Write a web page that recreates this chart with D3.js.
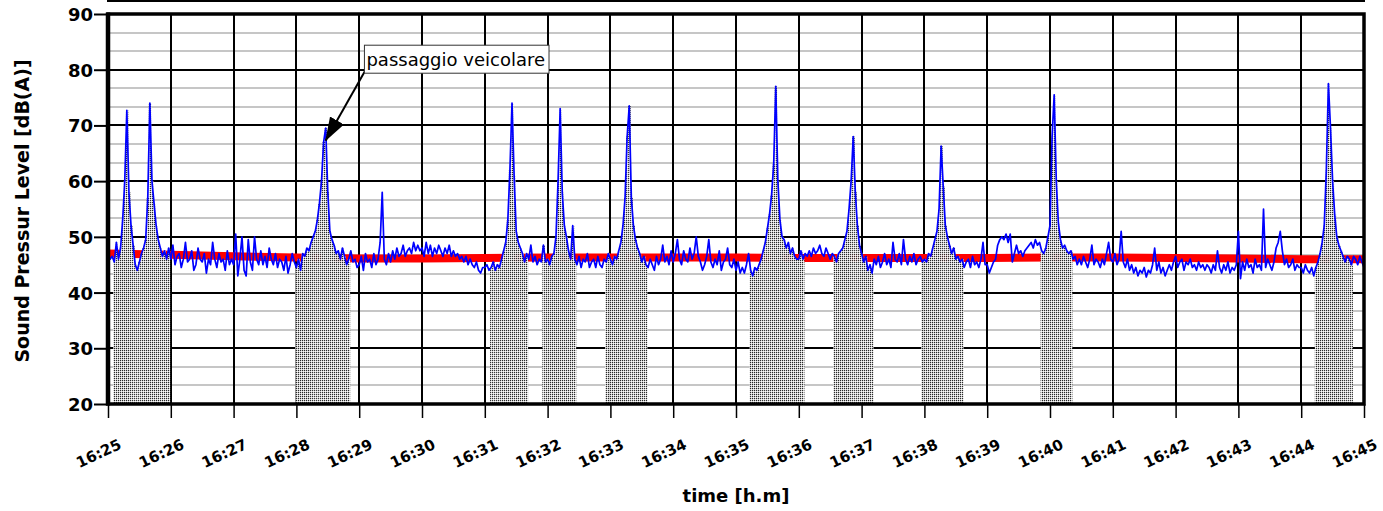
<!DOCTYPE html>
<html>
<head>
<meta charset="utf-8">
<script src="https://cdn.jsdelivr.net/npm/d3@7"></script>
<style>
	html, body { margin: 0; padding: 0; background: #fff; }
	#container-chart { width: 1383px; height: 511px; }
</style>
</head>
<body>
<div id="container-chart"></div>
<script>
/* minute labels on the time axis, 16:25 -> 16:45 */
var minuteLabels = ["16:25", "16:26", "16:27", "16:28", "16:29", "16:30", "16:31", "16:32", "16:33", "16:34",
	"16:35", "16:36", "16:37", "16:38", "16:39", "16:40", "16:41", "16:42", "16:43", "16:44", "16:45"];
var levelTicks = [20, 30, 40, 50, 60, 70, 80, 90];

/* sound level dB(A), one sample every sampleStep seconds, one row per minute */
var sampleStep = 2;
var levelSeries = [
	47, 46, 46.5, 45.5, 49, 46, 48, 53, 60, 72.7, 58, 52, 48.5, 45, 44, 45.5, 47, 48, 49.5, 57, 74, 60, 56, 52, 49.5, 48, 46.5, 47.5, 46, 48,
	46, 48.5, 45, 46.5, 47, 44.5, 46, 49, 45.5, 46, 47.5, 44, 45, 48, 46, 45.5, 47, 43.5, 46, 45, 49, 46, 44.5, 47, 45.5, 46, 44, 47.5, 45, 46,
	45, 50.5, 43, 46, 50, 44, 43, 49.5, 45.5, 44, 50, 46, 45, 47.5, 45, 46.5, 44.5, 48, 46, 45, 47, 44.5, 46, 45.5, 44, 46.5, 43.5, 45, 47, 45.5,
	44.5, 46, 44, 47, 46.5, 48, 47.5, 49, 50, 51, 53, 56, 60, 67, 69.5, 58, 51, 49.5, 48.5, 47, 47.5, 46, 48, 46.5, 45, 46, 47.5, 45.5, 46, 44.5,
	45, 46.5, 44, 47, 45.5, 46, 44.5, 47, 45, 46, 49, 58, 46, 45, 47, 45.5, 47.5, 46, 48, 46.5, 47, 48.5, 46.5, 47.5, 48, 47, 49, 47.5, 48.5, 47.5,
	48, 46.5, 49, 47, 48.5, 46.5, 48, 47, 48.5, 47.5, 46.5, 48, 47, 48.5, 46.5, 47.5, 46.5, 47, 46, 46.5, 45.5, 46.5, 45, 46, 45, 44.5, 45.5, 44, 43.5, 44.5,
	44.5, 45, 44, 44.5, 45.5, 44, 45, 44.5, 46, 47.5, 49, 53, 62, 74, 61, 51, 49, 48, 47, 45.5, 47, 46, 48.5, 45.5, 46.5, 45, 46, 45.5, 48.5, 45.5,
	46, 45, 46.5, 47, 50, 60, 73, 58, 52, 50, 47.5, 46, 52, 46, 45, 46.5, 44.5, 46, 45.5, 47, 44.5, 45.5, 46, 44.5, 46.5, 45, 44.5, 46, 45.5, 47,
	46, 45, 46.5, 46, 47.5, 49, 52, 57, 68, 73.5, 57, 52, 49.5, 48, 47, 45.5, 46.5, 45, 44.5, 46, 45, 44, 46.5, 45, 46, 48.5, 45.5, 46.5, 45, 47.5,
	45.5, 47, 49.5, 46, 45, 47.5, 46, 45.5, 48, 46, 47, 50, 46.5, 45.5, 44, 45, 46.5, 49.5, 45.5, 44.5, 46, 45, 47.5, 44, 45.5, 46, 48, 45, 44.5, 46,
	44, 45.5, 43.5, 44.5, 43.5, 45, 47, 44, 43, 44.5, 44, 45, 46, 47.5, 49, 51.5, 54, 57.5, 63, 77, 60, 53, 50, 49.5, 48, 49, 47, 48, 46.5, 46,
	46, 47.5, 46, 47, 46.5, 47.5, 46.5, 48, 47, 47.5, 48.5, 47, 46.5, 48, 47, 46, 47, 46.5, 45.5, 47, 47.5, 48, 49.5, 51, 55, 60, 68, 58, 52, 48.5,
	47, 45.5, 46.5, 44, 45, 43.5, 46, 45, 46.5, 44.5, 45.5, 47, 45, 46, 44.5, 49, 46, 45.5, 47, 45, 49.5, 46, 45, 46.5, 45.5, 47, 45, 46, 46.5, 45.5,
	46, 45.5, 47, 46.5, 48, 49.5, 51, 55, 66.3, 59, 52, 50, 48.5, 47, 48, 46, 46.5, 45.5, 46, 44.5, 45.5, 46, 44.5, 46.5, 45, 45.5, 44.5, 46, 49, 45,
	45, 43.5, 44.5, 45.5, 46, 48.5, 49.5, 50, 49.5, 50.5, 49, 50.5, 45.5, 47, 48.5, 47, 47.5, 46.5, 47.5, 48, 48.5, 49, 48, 49.5, 48.5, 49, 47.5, 47, 48, 50,
	52, 68, 75.5, 60, 52.5, 49.5, 48, 48.5, 47.5, 47, 47.5, 46, 46.5, 45, 46, 45, 46.5, 45.5, 44.5, 46, 48.5, 45, 46, 45.5, 44.5, 46, 45, 47, 49, 46,
	45.5, 47, 45, 46, 51, 45.5, 44.5, 46, 44, 45, 43.5, 44.5, 43, 44, 43.5, 44.5, 42.8, 44, 43.5, 45, 48, 44, 45.5, 43.5, 44.5, 43, 44, 45, 44, 45.5,
	46.5, 44.5, 45.5, 46, 44, 45.5, 45, 46, 44.5, 45, 44, 45.5, 44.5, 45, 44, 45, 44.5, 43.5, 45, 44, 47.5, 44.5, 43.5, 45, 44, 45.5, 43.5, 44.5, 44, 45,
	51, 42.5, 45.5, 44, 46, 44.5, 45, 43.5, 46, 44.5, 45, 44, 55, 44.5, 46, 45, 44, 45.5, 48, 49, 51, 47.5, 45, 46, 44.5, 45, 46, 44, 45, 44.5,
	44.5, 43.5, 45, 44, 43.5, 44.5, 43, 44.5, 45.5, 47, 49, 52, 62, 77.5, 69.5, 60, 54, 50, 48.5, 47.5, 46.5, 45.5, 46.5, 46, 45, 46.5, 46, 45, 46.5, 45.5,
	44.5
];

/* running Leq, one value per minute */
var leqSeries = [47.0, 46.8, 46.5, 46.3, 46.1, 46.1, 46.2, 46.3, 46.3, 46.3, 46.3,
	46.2, 46.2, 46.2, 46.2, 46.3, 46.3, 46.2, 46.1, 46.0, 46.0];

/* vehicle passages, [start, end] in seconds from 16:25 */
var eventWindows = [[6, 58], [180, 230], [366, 400], [416, 446], [476, 514],
	[614, 664], [694, 730], [778, 816], [892, 920], [1154, 1188]];

var annotationText = "passaggio veicolare";
var annotationTarget = [208, 67.3];   /* seconds, dB */
var annotationAnchor = [245, 84.4];

window.NoiseChart = (function () {

	function NoiseChart(levels, leq, events) {
		this.levels = levels;
		this.leq = leq;
		this.events = events;

		this.width = 1383;
		this.height = 511;
		this.margin = { top: 14, right: 19, bottom: 107, left: 108 };
	}

	NoiseChart.prototype.init = function () {
		this.drawFrame();
		this.drawSeries();
		this.drawAxes();
		this.drawAnnotation();
	};

	NoiseChart.prototype.drawFrame = function () {
		var m = this.margin;
		this.w = this.width - m.left - m.right;
		this.h = this.height - m.top - m.bottom;

		this.svg = d3.select("#container-chart")
			.append("svg")
			.attr("width", this.width)
			.attr("height", this.height)
			.style("background", "#fff");

		var defs = this.svg.append("defs");
		var pat = defs.append("pattern")
			.attr("id", "stipple")
			.attr("patternUnits", "userSpaceOnUse")
			.attr("width", 2)
			.attr("height", 2);
		pat.append("rect").attr("width", 2).attr("height", 2).attr("fill", "#cdcdcd");
		pat.append("rect").attr("width", 1).attr("height", 1).attr("fill", "#2a2a2a");
		pat.append("rect").attr("x", 1).attr("y", 1).attr("width", 1).attr("height", 1).attr("fill", "#fafafa");

		defs.append("marker")
			.attr("id", "arrowhead")
			.attr("markerUnits", "userSpaceOnUse")
			.attr("markerWidth", 24)
			.attr("markerHeight", 16)
			.attr("refX", 23)
			.attr("refY", 8)
			.attr("orient", "auto")
			.append("path")
			.attr("d", "M0,0 L24,8 L0,16 Z")
			.attr("fill", "#000");

		this.g = this.svg.append("g")
			.attr("transform", "translate(" + m.left + "," + m.top + ")");

		var totalSeconds = (this.levels.length - 1) * sampleStep;
		this.x = d3.scaleLinear().domain([0, totalSeconds]).range([0, this.w]);
		this.y = d3.scaleLinear().domain([levelTicks[0], levelTicks[levelTicks.length - 1]]).range([this.h, 0]);

		this.minuteTicks = minuteLabels.map(function (d, i) { return i * 60; });

		/* grey minor lines, three parts per 10 dB */
		var minor = [];
		for (var i = 0; i < levelTicks.length - 1; i++) {
			var step = (levelTicks[i + 1] - levelTicks[i]) / 3;
			minor.push(levelTicks[i] + step, levelTicks[i] + 2 * step);
		}

		var x = this.x, y = this.y, w = this.w;

		this.g.selectAll(".minor")
			.data(minor)
			.enter()
			.append("line")
			.attr("class", "minor")
			.attr("x1", 0).attr("x2", w)
			.attr("y1", function (d) { return Math.round(y(d)); })
			.attr("y2", function (d) { return Math.round(y(d)); })
			.attr("stroke", "#c6c6c6")
			.attr("stroke-width", 2);

		this.g.selectAll(".hmajor")
			.data(levelTicks)
			.enter()
			.append("line")
			.attr("class", "hmajor")
			.attr("x1", 0).attr("x2", w)
			.attr("y1", function (d) { return Math.round(y(d)); })
			.attr("y2", function (d) { return Math.round(y(d)); })
			.attr("stroke", "#000")
			.attr("stroke-width", 2);

		this.g.selectAll(".vmajor")
			.data(this.minuteTicks)
			.enter()
			.append("line")
			.attr("class", "vmajor")
			.attr("x1", function (d) { return Math.round(x(d)); })
			.attr("x2", function (d) { return Math.round(x(d)); })
			.attr("y1", 0).attr("y2", this.h)
			.attr("stroke", "#000")
			.attr("stroke-width", 2);
	};

	NoiseChart.prototype.drawSeries = function () {
		var x = this.x, y = this.y, events = this.events;

		var points = this.levels.map(function (v, i) {
			return { t: i * sampleStep, v: v };
		});

		/* running Leq (thick red) */
		var leqLine = d3.line()
			.x(function (d, i) { return x(i * 60); })
			.y(function (d) { return y(d); });

		this.g.append("path")
			.datum(this.leq)
			.attr("d", leqLine)
			.attr("fill", "none")
			.attr("stroke", "#ff0000")
			.attr("stroke-width", 8);

		/* vehicle passages, stippled columns */
		var inEvent = function (d) {
			for (var k = 0; k < events.length; k++) {
				if (d.t >= events[k][0] && d.t <= events[k][1]) {
					return true;
				}
			}
			return false;
		};
		var bw = x(sampleStep) - x(0);

		this.g.selectAll(".bar")
			.data(points.filter(inEvent))
			.enter()
			.append("rect")
			.attr("class", "bar")
			.attr("x", function (d) { return x(d.t) - bw / 2; })
			.attr("width", bw + 0.4)
			.attr("y", function (d) { return y(d.v); })
			.attr("height", function (d) { return y(levelTicks[0]) - y(d.v); })
			.attr("fill", "url(#stipple)");

		var levelLine = d3.line()
			.x(function (d) { return x(d.t); })
			.y(function (d) { return y(d.v); });

		this.g.append("path")
			.datum(points)
			.attr("d", levelLine)
			.attr("fill", "none")
			.attr("stroke", "#0000ff")
			.attr("stroke-width", 1.7)
			.attr("stroke-linejoin", "round");

		/* plot border */
		this.g.append("rect")
			.attr("width", this.w)
			.attr("height", this.h)
			.attr("fill", "none")
			.attr("stroke", "#000")
			.attr("stroke-width", 3.5);

		this.g.append("line")
			.attr("x1", 0).attr("x2", 0)
			.attr("y1", -1.5).attr("y2", this.h + 1.5)
			.attr("stroke", "#000")
			.attr("stroke-width", 4.5);

		/* thin line on top of the chart */
		this.g.append("line")
			.attr("x1", -1).attr("x2", this.w + 1)
			.attr("y1", -13).attr("y2", -13)
			.attr("stroke", "#000")
			.attr("stroke-width", 2);
	};

	NoiseChart.prototype.drawAxes = function () {
		var x = this.x, y = this.y, h = this.h;

		var yAxis = d3.axisLeft(y)
			.tickValues(levelTicks)
			.tickSize(13)
			.tickPadding(2);

		var ya = this.g.append("g").call(yAxis);
		ya.select(".domain").remove();
		ya.selectAll("line").attr("stroke", "#000").attr("stroke-width", 2).attr("transform", "translate(-1,0)");
		ya.selectAll("text")
			.attr("font-family", "'DejaVu Sans', Verdana, sans-serif")
			.attr("font-weight", "bold")
			.attr("font-size", "18px")
			.attr("fill", "#000")
			.attr("dy", "0.36em");

		var xAxis = d3.axisBottom(x)
			.tickValues(this.minuteTicks)
			.tickSize(14)
			.tickFormat("");

		var xa = this.g.append("g")
			.attr("transform", "translate(0," + h + ")")
			.call(xAxis);
		xa.select(".domain").remove();
		xa.selectAll("line").attr("stroke", "#000").attr("stroke-width", 1.5);

		this.g.selectAll(".tlabel")
			.data(this.minuteTicks)
			.enter()
			.append("text")
			.attr("class", "tlabel")
			.attr("transform", function (d) {
				return "translate(" + (x(d) + 14.5) + "," + (h + 44) + ") rotate(-25)";
			})
			.attr("text-anchor", "end")
			.attr("font-family", "'DejaVu Sans', sans-serif")
			.attr("font-weight", "bold")
			.attr("font-size", "15px")
			.attr("fill", "#000")
			.text(function (d, i) { return minuteLabels[i]; });

		this.svg.append("text")
			.attr("x", this.margin.left + this.w / 2)
			.attr("y", 502)
			.attr("text-anchor", "middle")
			.attr("font-family", "'DejaVu Sans', sans-serif")
			.attr("font-weight", "bold")
			.attr("font-size", "18px")
			.text("time [h.m]");

		this.svg.append("text")
			.attr("transform", "translate(29," + (this.margin.top + h / 2 + 2) + ") rotate(-90)")
			.attr("text-anchor", "middle")
			.attr("font-family", "'DejaVu Sans', Verdana, sans-serif")
			.attr("font-weight", "bold")
			.attr("font-size", "19px")
			.text("Sound Pressur Level [dB(A)]");
	};

	NoiseChart.prototype.drawAnnotation = function () {
		var x = this.x, y = this.y;
		var bx = x(annotationAnchor[0]), by = y(annotationAnchor[1]);

		this.g.append("line")
			.attr("x1", bx + 1)
			.attr("y1", by + 25)
			.attr("x2", x(annotationTarget[0]))
			.attr("y2", y(annotationTarget[1]))
			.attr("stroke", "#000")
			.attr("stroke-width", 2)
			.attr("marker-end", "url(#arrowhead)");

		var ann = this.g.append("g").attr("class", "annotation");
		var box = ann.append("rect")
			.attr("x", bx)
			.attr("y", by)
			.attr("height", 28)
			.attr("fill", "#fff")
			.attr("stroke", "#333")
			.attr("stroke-width", 1);

		var label = ann.append("text")
			.attr("x", bx + 2)
			.attr("y", by + 21)
			.attr("font-family", "'DejaVu Sans', Tahoma, sans-serif")
			.attr("font-size", "18px")
			.attr("fill", "#000")
			.text(annotationText);

		box.attr("width", label.node().getBBox().width + 6);
	};

	return NoiseChart;
})();

window.onload = function () {
	window.Application = new NoiseChart(levelSeries, leqSeries, eventWindows);
	Application.init();
};
</script>
</body>
</html>
